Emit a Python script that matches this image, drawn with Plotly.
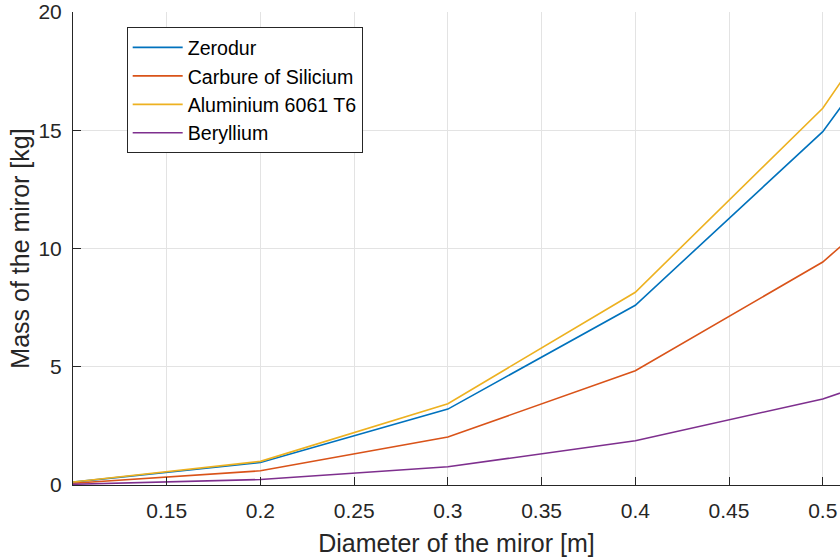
import plotly.graph_objects as go

diameter = [0.1, 0.2, 0.3, 0.4, 0.5, 0.6]
zerodur = [0.12, 0.95, 3.21, 7.6, 14.94, 25.8]
sic = [0.075, 0.6, 2.03, 4.83, 9.43, 16.3]
aluminium = [0.13, 1.0, 3.44, 8.15, 15.93, 27.5]
beryllium = [0.03, 0.23, 0.77, 1.87, 3.64, 6.3]

series = [
    ("Zerodur", zerodur, "#0072BD"),
    ("Carbure of Silicium", sic, "#D95319"),
    ("Aluminium 6061 T6", aluminium, "#EDB120"),
    ("Beryllium", beryllium, "#7E2F8E"),
]

xticks = [0.15, 0.2, 0.25, 0.3, 0.35, 0.4, 0.45, 0.5]
xticklabels = ["0.15", "0.2", "0.25", "0.3", "0.35", "0.4", "0.45", "0.5"]
yticks = [0, 5, 10, 15, 20]

fig = go.Figure()
for name, vals, color in series:
    fig.add_trace(go.Scatter(x=diameter, y=vals, mode="lines", name=name,
                             line=dict(color=color, width=1.6)))

font_family = "Liberation Sans, Arial, Helvetica, sans-serif"
fig.update_layout(
    width=840, height=560,
    margin=dict(l=73, r=0, t=12, b=75),
    plot_bgcolor="white", paper_bgcolor="white",
    font=dict(family=font_family, color="#262626"),
    showlegend=True,
    legend=dict(x=0.07, y=0.968, xanchor="left", yanchor="top",
                bgcolor="white", bordercolor="#262626", borderwidth=1,
                font=dict(size=19.6, color="black"), tracegroupgap=0,
                itemwidth=50),
    xaxis=dict(range=[0.1, 0.5092], tickvals=xticks, ticktext=xticklabels,
               showgrid=True, gridcolor="#e3e3e3", gridwidth=1,
               showline=True, linecolor="#262626", linewidth=1,
               ticks="inside", ticklen=8, tickcolor="#262626",
               zeroline=False, tickfont=dict(size=21, color="#262626"),
               ticklabelstandoff=7,
               title=dict(text="Diameter of the miror [m]",
                          font=dict(size=25, color="#262626"), standoff=13)),
    yaxis=dict(range=[0, 20], tickvals=yticks,
               showgrid=True, gridcolor="#e3e3e3", gridwidth=1,
               showline=True, linecolor="#262626", linewidth=1,
               ticks="inside", ticklen=8, tickcolor="#262626",
               zeroline=False, tickfont=dict(size=21, color="#262626"),
               ticklabelstandoff=6,
               title=dict(text="Mass of the miror [kg]",
                          font=dict(size=25, color="#262626"), standoff=1)),
)

fig.write_html("out.html")
